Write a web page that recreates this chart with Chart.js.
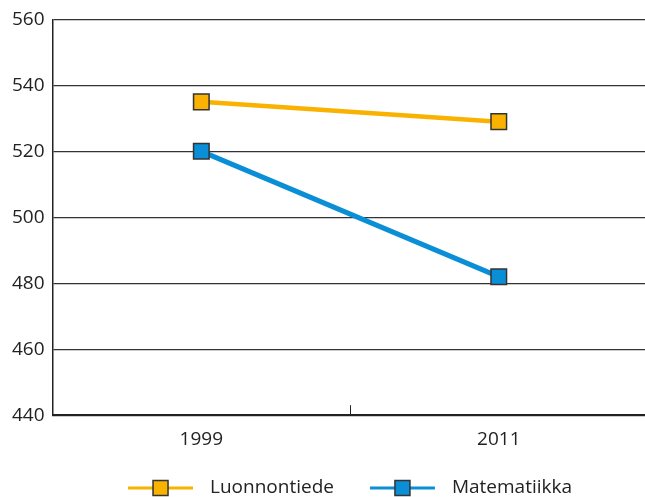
<!DOCTYPE html>
<html>
<head>
<meta charset="utf-8">
<script src="https://cdn.jsdelivr.net/npm/chart.js@4"></script>
<style>
  html, body { margin: 0; padding: 0; background: #fff; overflow: hidden; }
  #wrap { width: 660px; height: 497px; }
</style>
</head>
<body>
<div id="wrap"><canvas id="myChart" width="660" height="497"></canvas></div>
<script>
const years = ['1999', '2011'];
const luonnontiede = [535, 529];
const matematiikka = [520, 482];
const yTicks = [440, 460, 480, 500, 520, 540, 560];

const orange = '#F9B200';
const blue = '#0A8FD6';
const font = "'Open Sans', sans-serif";

// short tick between the categories on the x axis
const midTick = {
    id: 'midTick',
    afterDraw(chart) {
        const x = chart.scales.x;
        const c = chart.ctx;
        const mx = Math.round((x.getPixelForValue(0) + x.getPixelForValue(1)) / 2) + 0.5;
        const b = chart.chartArea.bottom;
        c.save();
        c.strokeStyle = '#222';
        c.lineWidth = 1;
        c.beginPath();
        c.moveTo(mx, b);
        c.lineTo(mx, b - 10);
        c.stroke();
        c.restore();
    }
};

// legend: line with a square in the middle, then the label
const bottomLegend = {
    id: 'bottomLegend',
    afterDraw(chart) {
        const c = chart.ctx;
        const sets = chart.data.datasets;
        c.save();
        c.font = '19px ' + font;
        const lineLen = 65, gap = 17, between = 36;
        const widths = sets.map(d => lineLen + gap + c.measureText(d.label).width);
        const total = widths.reduce((a, b) => a + b, 0) + between * (sets.length - 1);
        const area = chart.chartArea;
        let x = (area.left + area.right) / 2 - total / 2;
        const y = 488;
        sets.forEach((d, i) => {
            c.strokeStyle = d.borderColor;
            c.lineWidth = 3;
            c.beginPath();
            c.moveTo(x, y);
            c.lineTo(x + lineLen, y);
            c.stroke();
            c.fillStyle = d.pointBackgroundColor;
            c.fillRect(x + lineLen / 2 - 7.5, y - 7.5, 15, 15);
            c.strokeStyle = '#333';
            c.lineWidth = 1.5;
            c.strokeRect(x + lineLen / 2 - 7.5, y - 7.5, 15, 15);
            c.fillStyle = '#222';
            c.textBaseline = 'middle';
            c.fillText(d.label, x + lineLen + gap, y);
            x += widths[i] + between;
        });
        c.restore();
    }
};

const ctx = document.getElementById('myChart').getContext('2d');

const myChart = new Chart(ctx, {
    type: 'line',
    data: {
        labels: years,
        datasets: [
            {
                label: 'Luonnontiede',
                data: luonnontiede,
                borderColor: orange,
                borderWidth: 4.5,
                pointStyle: 'rect',
                pointRadius: 11,
                pointBackgroundColor: orange,
                pointBorderColor: '#333',
                pointBorderWidth: 1.5,
            },
            {
                label: 'Matematiikka',
                data: matematiikka,
                borderColor: blue,
                borderWidth: 5,
                pointStyle: 'rect',
                pointRadius: 11,
                pointBackgroundColor: blue,
                pointBorderColor: '#333',
                pointBorderWidth: 1.5,
            }
        ]
    },
    options: {
        responsive: false,
        animation: false,
        layout: {
            padding: { top: 15, left: 4, right: 2, bottom: 41 }
        },
        scales: {
            x: {
                offset: true,
                grid: { display: false },
                border: { display: true, color: '#222', width: 2 },
                ticks: {
                    color: '#222',
                    font: { family: font, size: 19 },
                    padding: 5,
                },
            },
            y: {
                min: 440,
                max: 560,
                afterBuildTicks: (axis) => {
                    axis.ticks = yTicks.map(v => ({ value: v }));
                },
                grid: {
                    color: '#333',
                    lineWidth: 1.3,
                    drawTicks: false,
                },
                border: { display: true, color: '#222', width: 1.5 },
                ticks: {
                    color: '#222',
                    font: { family: font, size: 19 },
                    padding: 8,
                },
            },
        },
        plugins: {
            legend: { display: false },
            title: { display: false },
            tooltip: { enabled: false },
        }
    },
    plugins: [midTick, bottomLegend]
});
</script>
</body>
</html>
